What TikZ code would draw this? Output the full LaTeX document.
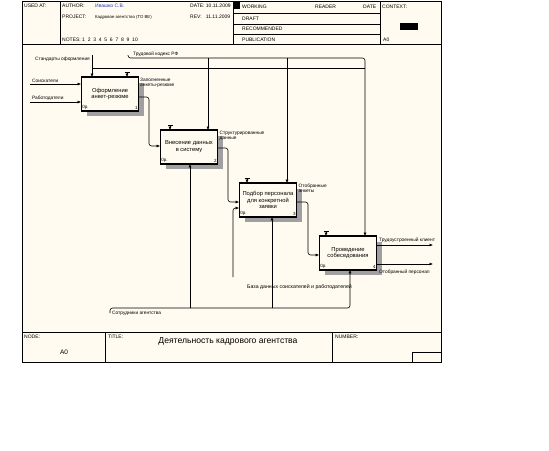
\documentclass[tikz,border=0pt]{standalone}
\usepackage{fontspec}
\setmainfont{Liberation Sans}
\usetikzlibrary{arrows.meta,calc,shadows}
\definecolor{cream}{RGB}{255,251,240}
\definecolor{authblue}{RGB}{40,60,200}
\definecolor{shade}{RGB}{160,160,160}
\begin{document}
\begin{tikzpicture}[x=1pt,y=-1pt,
  frame/.style={line width=0.8pt},
  lbl/.style={font=\fontsize{4.8}{5.4}\selectfont, inner sep=0pt, anchor=west},
  hdr/.style={font=\fontsize{5}{5.6}\selectfont, inner sep=0pt, anchor=west},
  actbox/.style={draw, line width=0.7pt, minimum width=57pt, minimum height=33pt, align=center,
    font=\fontsize{5.8}{6.8}\selectfont, inner sep=1pt, fill=cream,
    drop shadow={shadow xshift=5pt, shadow yshift=-5pt, fill=shade, opacity=1}},
  corner/.style={font=\fontsize{4.5}{5}\selectfont, inner sep=1pt},
  conn/.style={line width=0.6pt, rounded corners=2.5pt, -{Latex[length=3.5pt,width=3pt]}},
  plain/.style={line width=0.6pt, rounded corners=2.5pt},
]
\useasboundingbox (0,0) rectangle (549,450);
\fill[white] (0,0) rectangle (549,450);
\fill[cream] (22,1) rectangle (441,362);
% frame
\draw[frame] (22,1) rectangle (441,362);
\draw[frame] (22,44) -- (441,44);
\draw[frame] (22,332) -- (441,332);
\draw[frame] (60,1) -- (60,44);
\draw[frame] (233,1) -- (233,44);
\draw[frame] (380,1) -- (380,44);
\foreach \yy in {13,24,34} \draw[line width=0.6pt] (233,\yy) -- (380,\yy);
\fill (233,1) rectangle (240,9);
\draw[frame] (105,332) -- (105,362);
\draw[frame] (332,332) -- (332,362);
\draw[frame] (412,352) rectangle (441,362);
\fill (400,23) rectangle (418,30);
% header texts
\node[hdr] (usedat) at (24,6) {USED AT:};
\node[hdr] (author) at (62,6) {AUTHOR:};
\node[hdr, text=authblue] (authname) at (95,6) {Ивашко С.В.};
\node[hdr] (project) at (62,17) {PROJECT:};
\node[hdr, font=\fontsize{4.3}{5}\selectfont] (projname) at (95,17) {Кадровое агентство (TO BE)};
\node[hdr] (notes) at (62,40) {NOTES:\ 1\ \ 2\ \ 3\ \ 4\ \ 5\ \ 6\ \ 7\ \ 8\ \ 9\ \ 10};
\node[hdr] (date) at (190,6) {DATE: 10.11.2009};
\node[hdr] (rev) at (190,17) {REV:\ \ \ 11.11.2009};
\node[hdr] (working) at (242,7) {WORKING};
\node[hdr] (draft) at (242,19) {DRAFT};
\node[hdr] (recom) at (242,29) {RECOMMENDED};
\node[hdr] (publ) at (242,40) {PUBLICATION};
\node[hdr] (reader) at (315,7) {READER};
\node[hdr] (date2) at (363,7) {DATE};
\node[hdr] (context) at (382,7) {CONTEXT:};
\node[hdr] (ctxa0) at (383,40) {A0};
% footer texts
\node[hdr] (node) at (24,337) {NODE:};
\node[font=\fontsize{6.5}{7}\selectfont, inner sep=0pt] (nodea0) at (64,352) {A0};
\node[hdr] (title) at (108,337) {TITLE:};
\node[font=\fontsize{8.6}{9.5}\selectfont, inner sep=0pt] (titletext) at (228,341) {Деятельность кадрового агентства};
\node[hdr] (number) at (335,337) {NUMBER:};
% boxes
\node[actbox] (b1) at (110,94) {Оформление\\анкет-резюме};
\node[actbox] (b2) at (189,147) {Внесение данных\\в систему};
\node[actbox] (b3) at (268,200) {Подбор персонала\\для конкретной\\заявки};
\node[actbox] (b4) at (348,253) {Проведение\\собеседования};
\foreach \b/\n in {b1/1,b2/2,b3/3,b4/4}{
  \draw[line width=1.5pt] (\b.north west) -- (\b.north east);
  \draw[line width=1.5pt] (\b.south west) -- (\b.south east);
  \node[corner, anchor=south west] at (\b.south west) {0р.};
  \node[corner, anchor=south east] at (\b.south east) {\n};
}
% T marks
\foreach \b/\xx in {b1/127,b2/170,b3/247,b4/326}{
  \draw[line width=0.6pt] ($(\xx,0)!(\b.north)!(\xx,1)$) ++(-2.5,-4.5) -- ++(5,0);
  \draw[conn] ($(\xx,0)!(\b.north)!(\xx,1)$) ++(0,-4.5) -- ++(0,4.5);
}
% inputs to box 1
\coordinate (s1) at (30,84);
\coordinate (s2) at (30,102);
\node[lbl, anchor=south west] (s1l) at (32,82.5) {Соискатели};
\node[lbl, anchor=south west] (s2l) at (32,100.5) {Работодатели};
\draw[conn] (s1) -- (s1 -| b1.west);
\draw[conn] (s2) -- (s2 -| b1.west);
% controls
\coordinate (c1) at (92,55);
\coordinate (j1) at (92,68);
\node[lbl, anchor=east] (c1l) at (90,59) {Стандарты оформления};
\draw[conn] (c1) -- (c1 |- b1.north);
\draw[plain] (j1) -- (365,68);
\coordinate (c2) at (128,55);
\node[lbl, anchor=south west] (c2l) at (133,56.5) {Трудовой кодекс РФ};
\draw[conn] (c2) -- (128,58) -- (365,58) -- (365,0 |- b4.north);
\coordinate (k2) at (208,58);
\coordinate (k3) at (287,58);
\draw[conn] (k2) -- (k2 |- b2.north);
\draw[conn] (k3) -- (k3 |- b3.north);
% box-to-box
\draw[conn] (b1.east |- 0,97) -- (149,97) -- (149,146) -- (b2.west |- 0,146);
\node[lbl, anchor=north west, align=left] (o1l) at (140,77.5) {Заполненные\\анкеты-резюме};
\draw[conn] (b2.east |- 0,148) -- (228,148) -- (228,202) -- (b3.west |- 0,202);
\node[lbl, anchor=north west, align=left] (o2l) at (219.5,130.5) {Структурированные\\данные};
\draw[conn] (b3.east |- 0,202) -- (308,202) -- (308,255) -- (b4.west |- 0,255);
\node[lbl, anchor=north west, align=left] (o3l) at (298.5,183.5) {Отобранные\\анкеты};
% outputs of box 4
\coordinate (e1) at (433,245);
\coordinate (e2) at (433,264);
\draw[conn] (b4.east |- e1) -- (e1);
\draw[conn] (b4.east |- e2) -- (e2);
\node[lbl, anchor=south west] (e1l) at (379,243) {Трудоустроенный клиент};
\node[lbl] (e2l) at (379,272) {Отобранный персонал};
% second input to box 3
\coordinate (d1) at (233,277);
\draw[conn] (d1) -- (233,208) -- (b3.west |- 0,208);
\node[lbl, font=\fontsize{5.2}{6}\selectfont] (d1l) at (247,287) {База данных соискателей и работодателей};
% mechanisms
\coordinate (m0) at (110,313);
\node[lbl] (m0l) at (112,313.5) {Сотрудники агентства};
\draw[conn] (m0) -- (110,308) -- (350,308) -- (350,0 |- b4.south);
\coordinate (m2) at (190,308);
\coordinate (m3) at (272,308);
\draw[conn] (m2) -- (m2 |- b2.south);
\draw[conn] (m3) -- (m3 |- b3.south);
\end{tikzpicture}
\end{document}
